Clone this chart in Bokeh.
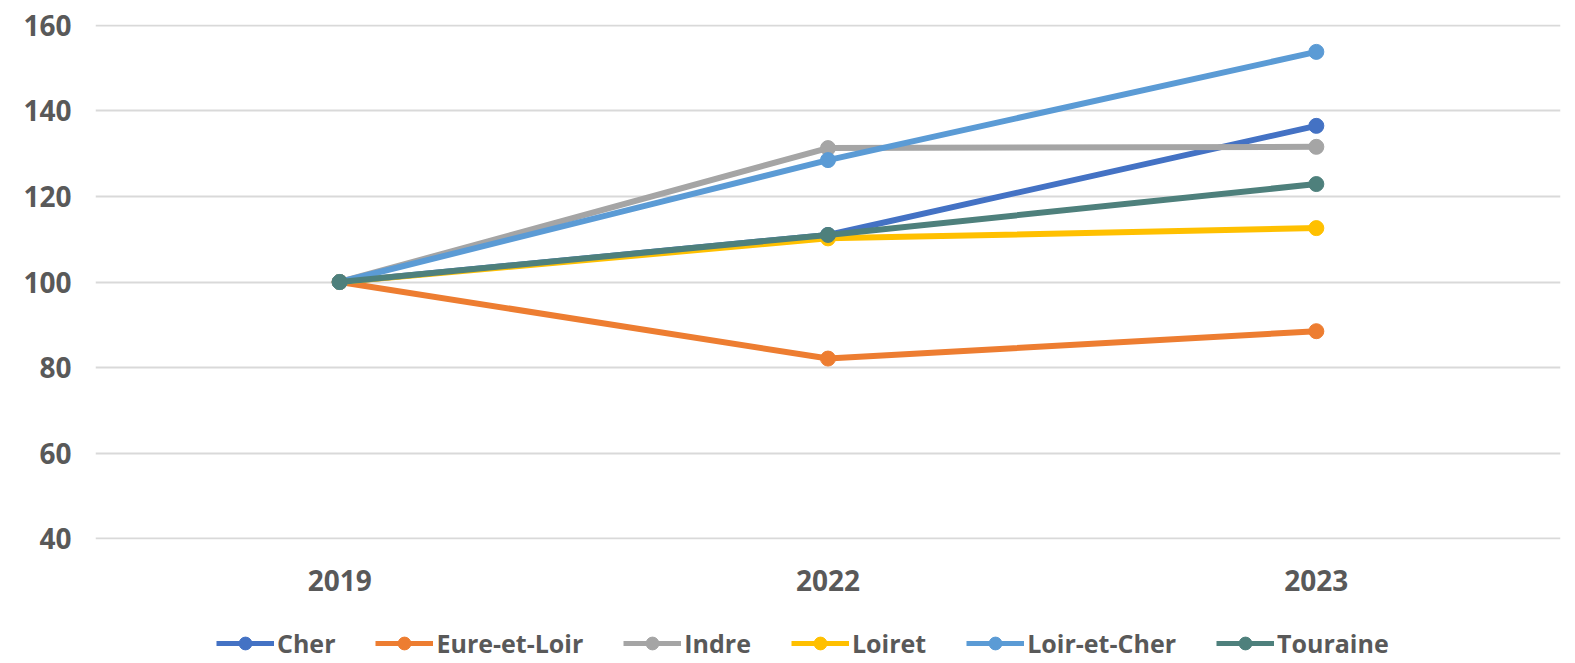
from bokeh.plotting import figure
from bokeh.layouts import column
from bokeh.models import Legend, LegendItem, Range1d, FactorRange, FixedTicker
from bokeh.embed import file_html
from bokeh.resources import INLINE

years = ["2019", "2022", "2023"]
series_names = ["Cher", "Eure-et-Loir", "Indre", "Loiret", "Loir-et-Cher", "Touraine"]
cher = [100, 111.0, 136.5]
eure_et_loir = [100, 82.1, 88.5]
indre = [100, 131.3, 131.6]
loiret = [100, 110.2, 112.6]
loir_et_cher = [100, 128.5, 153.8]
touraine = [100, 111.0, 122.9]
colors = ["#4472C4", "#ED7D31", "#A5A5A5", "#FFC000", "#5B9BD5", "#4E807C"]
y_ticks = [40, 60, 80, 100, 120, 140, 160]

all_series = [cher, eure_et_loir, indre, loiret, loir_et_cher, touraine]

p = figure(width=1568, height=610,
           x_range=FactorRange(*years, range_padding=0),
           y_range=Range1d(39.8, 160.2), output_backend="svg", toolbar_location=None,
           min_border_left=95, min_border_right=8, min_border_top=24, min_border_bottom=71)
p.outline_line_color = None
p.background_fill_color = "white"

for name, vals, col in zip(series_names, all_series, colors):
    p.line(years, vals, line_color=col, line_width=6)
    p.scatter(years, vals, size=15, fill_color=col, line_color=col)

p.xgrid.grid_line_color = None
p.ygrid.grid_line_color = "#D9D9D9"
p.ygrid.grid_line_width = 2
p.yaxis.ticker = FixedTicker(ticks=y_ticks)
for ax in (p.xaxis, p.yaxis):
    ax.axis_line_color = None
    ax.major_tick_line_color = None
    ax.minor_tick_line_color = None
    ax.major_tick_out = 0
    ax.major_tick_in = 0
    ax.major_label_text_font = "Open Sans"
    ax.major_label_text_font_style = "bold"
    ax.major_label_text_font_size = "28px"
    ax.major_label_text_color = "#595959"
p.yaxis.major_label_standoff = 24
p.xaxis.major_label_standoff = 30

# legend strip below the chart (key swatches only, placed outside the strip's range)
lg = figure(width=1568, height=53, x_range=Range1d(0, 1), y_range=Range1d(0, 1),
            x_axis_type=None, y_axis_type=None,
            output_backend="svg", toolbar_location=None,
            min_border_left=0, min_border_right=0, min_border_top=0, min_border_bottom=0)
lg.grid.grid_line_color = None
lg.outline_line_color = None
items = []
for name, col in zip(series_names, colors):
    r1 = lg.line([5, 6], [5, 6], line_color=col, line_width=5)
    r2 = lg.scatter([5], [5], size=13, fill_color=col, line_color=col)
    items.append(LegendItem(label=name, renderers=[r1, r2]))

legend = Legend(items=items, orientation="horizontal", location=(121, 3),
                label_text_font="Open Sans", label_text_font_style="bold",
                label_text_font_size="25px", label_text_color="#595959",
                glyph_width=58, glyph_height=32, spacing=40, label_standoff=3,
                border_line_color=None, background_fill_alpha=0, margin=0, padding=0)
lg.add_layout(legend, "center")

layout = column(p, lg, spacing=0)
open("out.html", "w").write(file_html(layout, INLINE))
